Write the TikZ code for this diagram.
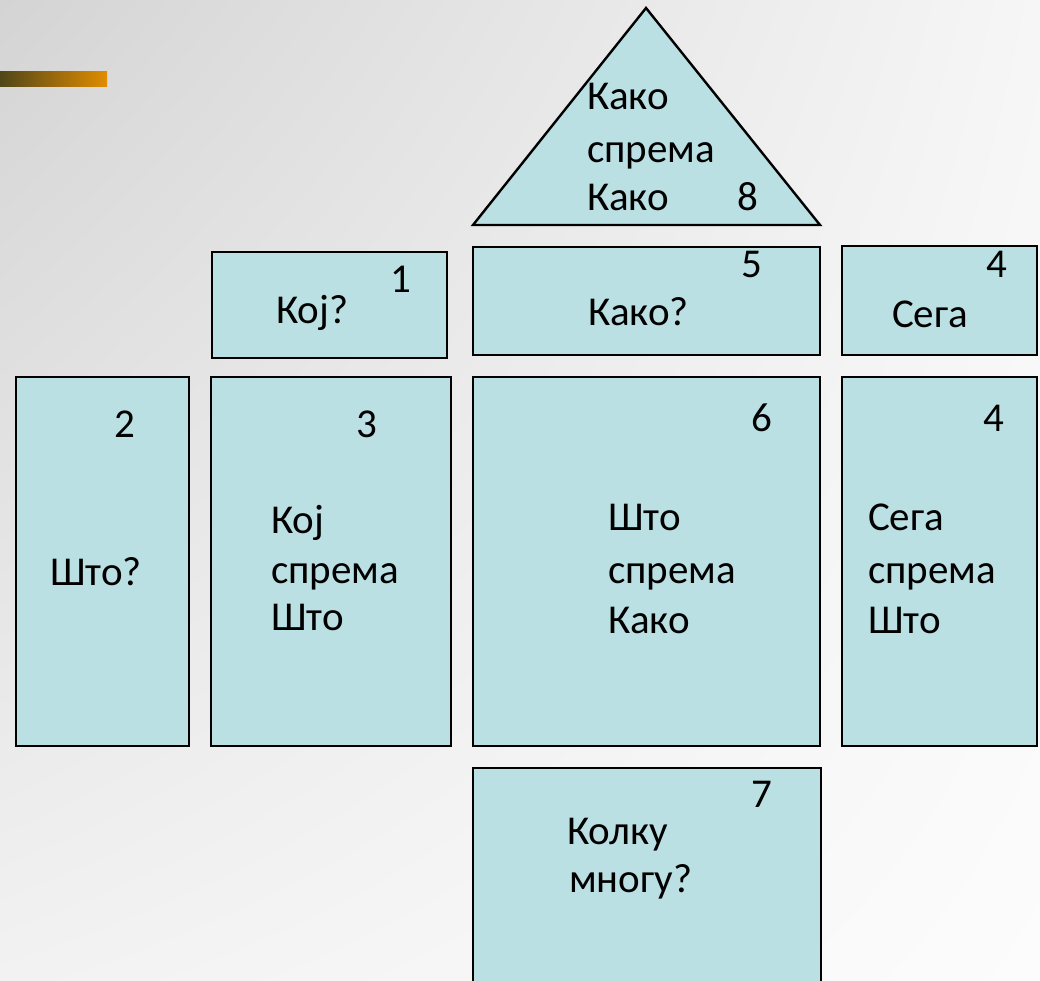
\documentclass[tikz,border=0pt]{standalone}
\usepackage{fontspec}
\setmainfont{Carlito}
\usetikzlibrary{shapes.geometric,shadings}
\definecolor{boxfill}{RGB}{186,224,227}
\definecolor{barA}{RGB}{80,70,25}
\definecolor{barB}{RGB}{170,80,15}
\definecolor{barC}{RGB}{225,140,0}
\definecolor{bgUL}{RGB}{212,212,212}
\definecolor{bgUR}{RGB}{246,246,246}
\definecolor{bgLL}{RGB}{242,242,242}
\definecolor{bgLR}{RGB}{252,252,252}
\tikzset{
  box/.style={draw=black, line width=2.6pt, fill=boxfill, rectangle, inner sep=0pt, outer sep=0pt},
  lbl/.style={anchor=base west, inner sep=0pt, outer sep=0pt, font=\fontsize{41}{50}\selectfont, text=black},
}
\begin{document}
\begin{tikzpicture}[x=1pt,y=-1pt]
\useasboundingbox (0,0) rectangle (1040,981);
\begin{scope}
\clip (0,0) rectangle (1040,981);
% background
\shade[upper left=bgUL, upper right=bgUR, lower left=bgLL, lower right=bgLR]
  (0,0) rectangle (1040,981);
% decorative bar
\shade[left color=barA, middle color=barB, right color=barC] (0,72) rectangle (107,87);
% roof triangle
\coordinate (apex) at (646,8);
\coordinate (bl) at (473,225);
\coordinate (br) at (820,225);
\draw[line width=2.4pt, fill=boxfill, line join=miter] (apex) -- (br) -- (bl) -- cycle;
% boxes
\node[box, minimum width=235pt, minimum height=106pt] (b1) at (329.5,305) {};
\node[box, minimum width=347pt, minimum height=108pt] (b5) at (646.5,301) {};
\node[box, minimum width=195pt, minimum height=109pt] (b4a) at (939.5,300.5) {};
\node[box, minimum width=173pt, minimum height=369pt] (b2) at (102.5,561.5) {};
\node[box, minimum width=240pt, minimum height=369pt] (b3) at (331,561.5) {};
\node[box, minimum width=347pt, minimum height=369pt] (b6) at (646.5,561.5) {};
\node[box, minimum width=195pt, minimum height=369pt] (b4b) at (939.5,561.5) {};
\node[box, minimum width=348pt, minimum height=240pt] (b7) at (647,888) {};
% texts: roof
\node[lbl] (t8a) at (587,110) {Како};
\node[lbl] (t8b) at (587,163) {спрема};
\node[lbl] (t8c) at (587,211) {Како};
\node[lbl] (n8) at (737,211) {8};
% box 1
\node[lbl] (n1) at (390,293) {1};
\node[lbl] (t1) at (276,323) {Кој?};
% box 5
\node[lbl] (n5) at (741,278) {5};
\node[lbl] (t5) at (588,325) {Како?};
% box 4 top
\node[lbl] (n4a) at (986,278) {4};
\node[lbl] (t4a) at (892,327) {Сега};
% box 2
\node[lbl] (n2) at (114,437) {2};
\node[lbl] (t2) at (50,585) {Што?};
% box 3
\node[lbl] (n3) at (356,437) {3};
\node[lbl] (t3a) at (271,533) {Кој};
\node[lbl] (t3b) at (271,583) {спрема};
\node[lbl] (t3c) at (271,630) {Што};
% box 6
\node[lbl] (n6) at (751,431) {6};
\node[lbl] (t6a) at (608,530) {Што};
\node[lbl] (t6b) at (608,583) {спрема};
\node[lbl] (t6c) at (608,633) {Како};
% box 4 bottom
\node[lbl] (n4b) at (983,431) {4};
\node[lbl] (t4ba) at (868,530) {Сега};
\node[lbl] (t4bb) at (868,583) {спрема};
\node[lbl] (t4bc) at (868,633) {Што};
% box 7
\node[lbl] (n7) at (751,807) {7};
\node[lbl] (t7a) at (567,844) {Колку};
\node[lbl] (t7b) at (569,892) {многу?};
\end{scope}
\end{tikzpicture}
\end{document}
